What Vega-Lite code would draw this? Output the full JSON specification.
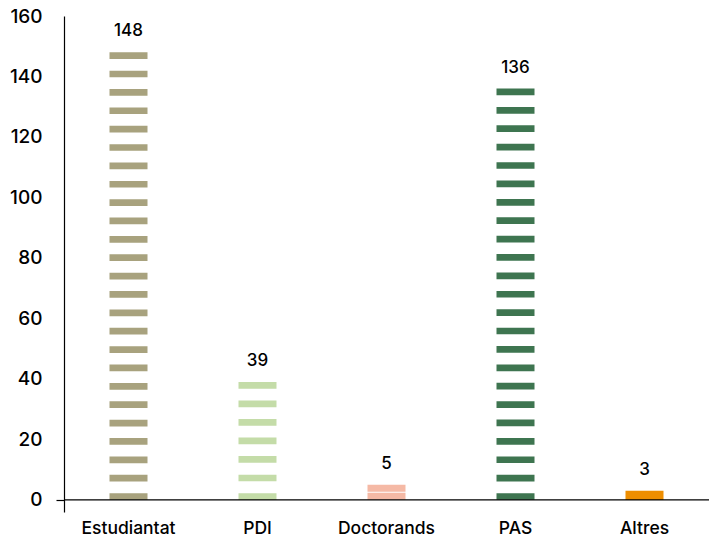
{
  "$schema": "https://vega.github.io/schema/vega-lite/v6.json",
  "width": 645,
  "height": 496,
  "autosize": {"type": "none"},
  "padding": {"left": 64, "top": 16, "right": 0, "bottom": 29},
  "background": "white",
  "config": {"view": {"stroke": null}, "font": "Inter"},
  "data": {
    "values": [
      {"Categoria": "Estudiantat", "Nombre": 148},
      {"Categoria": "PDI", "Nombre": 39},
      {"Categoria": "Doctorands", "Nombre": 5},
      {"Categoria": "PAS", "Nombre": 136},
      {"Categoria": "Altres", "Nombre": 3}
    ]
  },
  "layer": [
    {
      "mark": {"type": "rule", "strokeWidth": 38, "strokeCap": "butt"},
      "encoding": {
        "x": {
          "field": "Categoria",
          "type": "nominal",
          "sort": null,
          "scale": {"paddingInner": 0, "paddingOuter": 0},
          "axis": {
            "orient": "bottom",
            "domain": false,
            "ticks": false,
            "labelFontSize": 17.5,
            "labelFontWeight": 500,
            "labelColor": "black",
            "labelPadding": 7,
            "labelAngle": 0,
            "title": null
          }
        },
        "y": {
          "field": "Nombre",
          "type": "quantitative",
          "scale": {"domain": [-4, 160], "nice": false, "zero": false},
          "axis": {
            "values": [0, 20, 40, 60, 80, 100, 120, 140, 160],
            "domain": true,
            "domainColor": "black",
            "domainWidth": 1.2,
            "ticks": true,
            "tickSize": 8,
            "tickColor": "black",
            "tickWidth": 1.2,
            "tickOpacity": {"condition": {"test": "datum.value === 0", "value": 1}, "value": 0},
            "labelFontSize": 19,
            "labelFontWeight": 500,
            "labelColor": "black",
            "labelPadding": 14,
            "grid": false,
            "title": null,
            "zindex": 1
          }
        },
        "y2": {"datum": 0},
        "color": {
          "field": "Categoria",
          "type": "nominal",
          "scale": {
            "domain": ["Estudiantat", "PDI", "Doctorands", "PAS", "Altres"],
            "range": ["#a8a27e", "#c4dca8", "#f5b9a5", "#3e7550", "#ee8e00"]
          },
          "legend": null
        },
        "strokeDash": {
          "field": "Categoria",
          "type": "nominal",
          "scale": {
            "domain": ["Estudiantat", "PDI", "Doctorands", "PAS", "Altres"],
            "range": [[6.7, 11.67], [6.7, 11.84], [7, 1], [6.7, 11.69], [20, 0]]
          },
          "legend": null
        }
      }
    },
    {
      "data": {"values": [{}]},
      "mark": {"type": "rule", "color": "black", "strokeWidth": 1.2},
      "encoding": {"y": {"datum": 0, "type": "quantitative"}}
    },
    {
      "mark": {"type": "text", "dy": -21, "fontSize": 17, "fontWeight": 500, "color": "black", "baseline": "middle"},
      "encoding": {
        "x": {"field": "Categoria", "type": "nominal", "sort": null},
        "y": {"field": "Nombre", "type": "quantitative"},
        "text": {"field": "Nombre", "type": "quantitative"}
      }
    }
  ]
}
